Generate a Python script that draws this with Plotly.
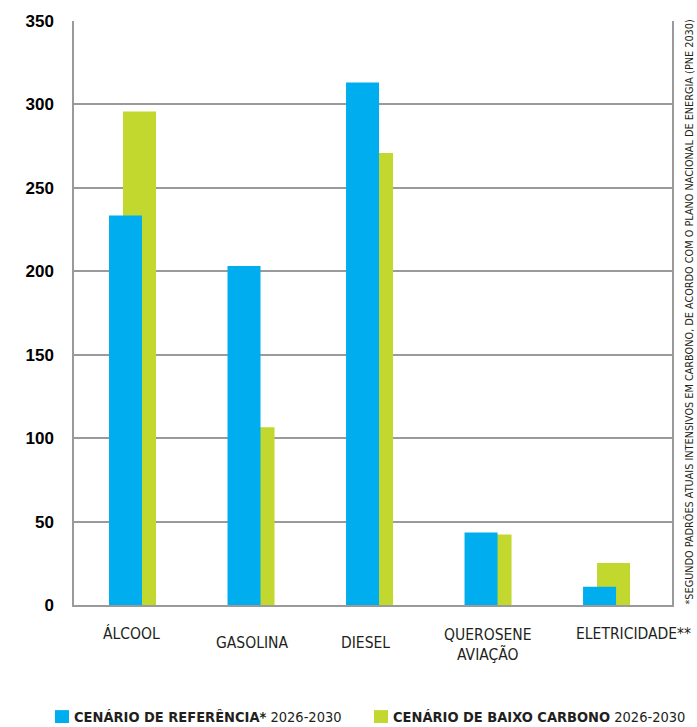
import plotly.graph_objects as go

categories = ["ÁLCOOL", "GASOLINA", "DIESEL", "QUEROSENE<br>AVIAÇÃO", "ELETRICIDADE**"]
ref_values = [233.5, 203.2, 313.1, 43.5, 10.9]
low_carbon_values = [295.8, 106.5, 270.9, 42.3, 25.1]
y_ticks = [0, 50, 100, 150, 200, 250, 300, 350]
legend_ref = "<b>CENÁRIO DE REFERÊNCIA*</b> 2026-2030"
legend_low = "<b>CENÁRIO DE BAIXO CARBONO</b> 2026-2030"
note = "*SEGUNDO PADRÕES ATUAIS INTENSIVOS EM CARBONO, DE ACORDO COM O PLANO NACIONAL DE ENERGIA (PNE 2030)"

BLUE = "#00AEEF"
GREEN = "#C2D82F"
TXT = "#231f20"
GRID = "#9a9a9a"
COND = "Liberation Sans Narrow, DejaVu Sans Condensed, Arial Narrow, sans-serif"

W, H = 697, 727
L, R, T, B = 74, 25, 16, 122
PW, PH = W - L - R, H - T - B

def px_x(px):
    return (px - L) / PW

def px_y(py):
    return (H - B - py) / PH

x_idx = list(range(len(categories)))

fig = go.Figure()
fig.add_trace(go.Bar(x=x_idx, y=low_carbon_values, marker_color=GREEN, marker_line_width=0,
                     width=0.2785, offset=-0.0865, name="low"))
fig.add_trace(go.Bar(x=x_idx, y=ref_values, marker_color=BLUE, marker_line_width=0,
                     width=0.2785, offset=-0.2046, name="ref"))

fig.update_layout(
    width=W, height=H,
    margin=dict(l=L, r=R, t=T, b=B, pad=0),
    paper_bgcolor="white", plot_bgcolor="white",
    barmode="overlay", showlegend=False,
    xaxis=dict(range=[-0.5, 4.546], showticklabels=False, ticks="", showgrid=False,
               showline=True, linecolor=GRID, linewidth=2, zeroline=False, fixedrange=True),
    yaxis=dict(range=[0, 350], tickvals=y_ticks, ticks="", showgrid=True, gridcolor=GRID,
               gridwidth=1.5, showline=True, linecolor=GRID, linewidth=1.5, mirror=True,
               zeroline=False, ticklabelstandoff=15,
               tickfont=dict(family="Liberation Sans, Arial, sans-serif", size=17, color="black", weight="bold")),
)

# category labels
label_xshift = [-2, 0, -5, -1, 26]
label_ycenter = [634, 643, 643, 645.5, 634]
for i, cat in enumerate(categories):
    fig.add_annotation(x=i, xref="x", y=px_y(label_ycenter[i]), yref="paper",
                       text=cat, showarrow=False, xanchor="center", yanchor="middle",
                       xshift=label_xshift[i],
                       font=dict(family=COND, size=15.5, color=TXT))

# legend (squares + text)
fig.add_shape(type="rect", xref="paper", yref="paper",
              x0=px_x(55), x1=px_x(69), y0=px_y(724), y1=px_y(711),
              fillcolor=BLUE, line_width=0)
fig.add_shape(type="rect", xref="paper", yref="paper",
              x0=px_x(374), x1=px_x(388), y0=px_y(724), y1=px_y(711),
              fillcolor=GREEN, line_width=0)
fig.add_annotation(x=px_x(72), y=px_y(717.5), xref="paper", yref="paper", text=legend_ref,
                   showarrow=False, xanchor="left", yanchor="middle",
                   font=dict(family=COND, size=14.5, color=TXT))
fig.add_annotation(x=px_x(391), y=px_y(717.5), xref="paper", yref="paper", text=legend_low,
                   showarrow=False, xanchor="left", yanchor="middle",
                   font=dict(family=COND, size=14.5, color=TXT))

# rotated note
fig.add_annotation(x=px_x(690), y=px_y(310), xref="paper", yref="paper", text=note,
                   showarrow=False, textangle=-90, xanchor="center", yanchor="middle",
                   font=dict(family=COND, size=10.8, color=TXT))

fig.write_html("out.html")
